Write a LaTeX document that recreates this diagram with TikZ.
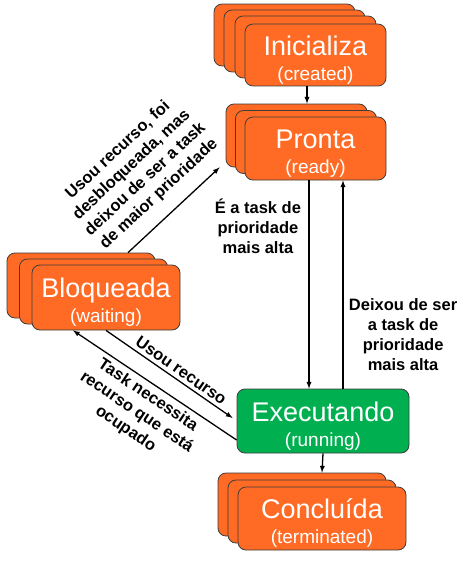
\documentclass[tikz,border=0pt]{standalone}
\usepackage{fontspec}
\setmainfont{Liberation Sans}
\usetikzlibrary{arrows,shadows}
\definecolor{taskorange}{RGB}{255,107,36}
\definecolor{rungreen}{RGB}{0,176,80}
\definecolor{edgegray}{RGB}{60,60,60}
\newcommand{\statefont}{\fontsize{27}{30}\selectfont}
\newcommand{\subfont}{\fontsize{19}{25}\selectfont}
\newcommand{\labelfont}{\fontsize{16.5}{20}\selectfont\bfseries}
\newcommand{\statename}[2]{{\statefont\rule{0pt}{29pt}#1}\\#2}
\tikzset{
	state/.style={draw=edgegray, line width=0.8pt, fill=taskorange, text=white, rounded corners=8pt, align=center, font=\subfont, inner sep=2pt},
	layer/.style 2 args={copy shadow={shadow xshift=-#1, shadow yshift=#2, fill=taskorange, draw=edgegray}},
	flow/.style={->, line width=1.3pt},
	lbl/.style={font=\labelfont, align=center, text=black},
}

\begin{document}
\begin{tikzpicture}[x=1pt,y=-1pt,>=latex]
	\useasboundingbox (0,0) rectangle (473,562);
	\node[state, layer={31pt}{20pt}, layer={21pt}{14pt}, layer={10pt}{8pt}, minimum width=141pt, minimum height=60pt] (ini) at (315.5,55) {\statename{Inicializa}{(created)}};
	\node[state, layer={19pt}{13pt}, layer={9.5pt}{6.5pt}, minimum width=141pt, minimum height=63pt] (pronta) at (315.5,148.5) {\statename{Pronta}{(ready)}};
	\node[state, layer={25pt}{12pt}, layer={12.5pt}{6pt}, minimum width=148pt, minimum height=65pt] (bloq) at (106,297.5) {\statename{Bloqueada}{(waiting)}};
	\node[state, fill=rungreen, minimum width=172pt, minimum height=64pt] (exec) at (323,421) {\statename{Executando}{(running)}};
	\node[state, layer={20pt}{14pt}, layer={10pt}{7pt}, minimum width=168pt, minimum height=63pt] (concl) at (322,518.5) {\statename{Conclu\'ida}{(terminated)}};
	%
	\draw[flow] ([xshift=-8.5pt]ini.south) to ([xshift=-8.5pt,yshift=13pt]pronta.north);
	\draw[flow] ([xshift=-6.5pt]pronta.south) to node[lbl, pos=0.22, left=4pt] {\'E a task de\\prioridade\\mais alta} ([xshift=-14pt]exec.north);
	\draw[flow] ([xshift=20pt]exec.north) to node[lbl, pos=0.26, right=2pt] {Deixou de ser\\a task de\\prioridade\\mais alta} ([xshift=27.5pt]pronta.south);
	\draw[flow] (exec.south) to ([yshift=14pt]concl.north);
	\draw[flow] ([xshift=22pt,yshift=12pt]bloq.north) to node[lbl, midway, sloped, above=10pt] {Usou recurso, foi\\desbloqueada, mas\\deixou de ser a task\\de maior prioridade} ([xshift=-25pt,yshift=13pt]pronta.south west);
	\draw[flow] (bloq.south) to node[lbl, pos=0.55, sloped, above] {Usou recurso} ([xshift=-4pt,yshift=3pt]exec.west);
	\draw[flow] ([yshift=-19pt]exec.west) to node[lbl, midway, sloped, below=1pt] {Task necessita\\recurso que est\'a\\ocupado} ([xshift=-33pt]bloq.south);
\end{tikzpicture}
\end{document}
